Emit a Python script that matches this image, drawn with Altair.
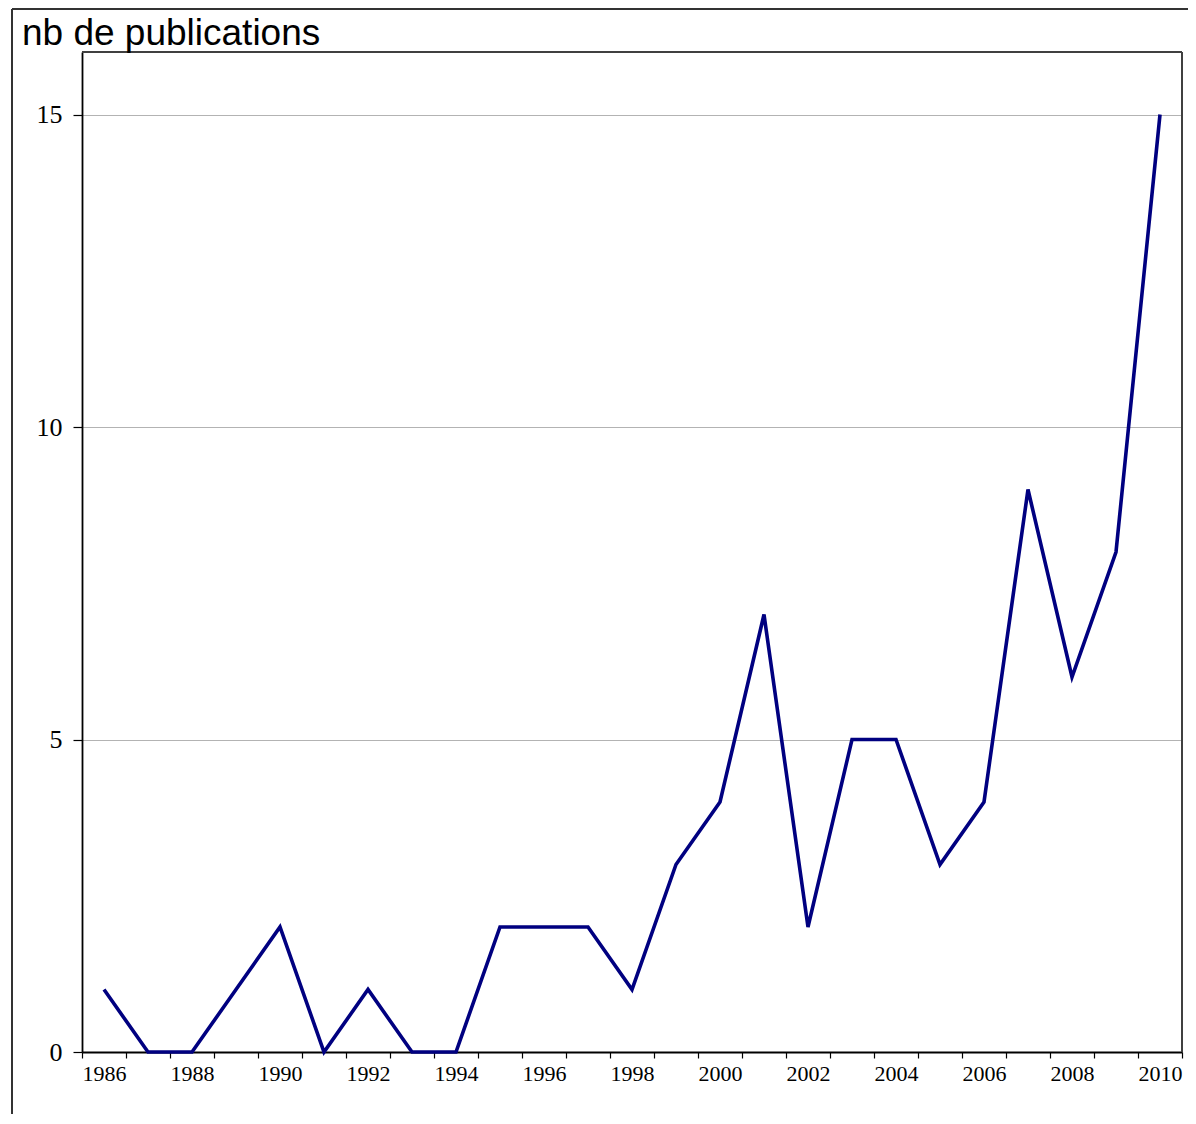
import altair as alt
import pandas as pd

years = list(range(1986, 2011))
counts = [1, 0, 0, 1, 2, 0, 1, 0, 0, 2, 2, 2, 1, 3, 4, 7, 2, 5, 5, 3, 4, 9, 6, 8, 15]
title_text = ["nb de publications"]
y_ticks = [0, 5, 10, 15]

df = pd.DataFrame({"year": years, "count": counts})
tick_vals = [y - 0.5 for y in years] + [years[-1] + 0.5]

W, H = 1100, 1000

x_scale = alt.Scale(domain=[years[0] - 0.5, years[-1] + 0.5], nice=False, zero=False)
y_scale = alt.Scale(domain=[0, 16], nice=False)

line = alt.Chart(df).mark_line(color="#000080", strokeWidth=3.6, clip=False).encode(
    x=alt.X("year:Q", scale=x_scale,
            axis=alt.Axis(values=tick_vals, title=None, grid=False,
                          labelExpr="(datum.value + 0.5) % 2 == 0 && datum.value < 2010 ? '' + (datum.value + 0.5) : ''",
                          labelOffset=22, labelOverlap=False, labelBound=False, labelFlush=False,
                          tickSize=6, tickColor="#000000", tickWidth=1.2,
                          domainColor="#000000", domainWidth=1.8,
                          labelFont="Liberation Serif", labelFontSize=22, labelColor="#000000",
                          labelPadding=5)),
    y=alt.Y("count:Q", scale=y_scale,
            axis=alt.Axis(values=y_ticks, title=None, grid=True, gridColor="#b3b3b3", gridWidth=1,
                          tickSize=9, tickColor="#000000", tickWidth=1.2,
                          domainColor="#000000", domainWidth=1.8,
                          labelFont="Liberation Serif", labelFontSize=26, labelColor="#000000",
                          labelPadding=11)),
)

title = alt.Chart(pd.DataFrame({"t": title_text})).mark_text(
    font="Liberation Sans", fontSize=37, align="left", baseline="alphabetic", color="#000000"
).encode(text="t:N", x=alt.value(-60), y=alt.value(-7))

one = pd.DataFrame({"a": [0]})
frame_top = alt.Chart(one).mark_rule(color="#333333", strokeWidth=2).encode(
    x=alt.value(-70), x2=alt.value(W + 40), y=alt.value(-43), y2=alt.value(-43))
frame_left = alt.Chart(one).mark_rule(color="#333333", strokeWidth=2).encode(
    x=alt.value(-70), x2=alt.value(-70), y=alt.value(-43), y2=alt.value(H + 100))
plot_top = alt.Chart(one).mark_rule(color="#404040", strokeWidth=2).encode(
    x=alt.value(0), x2=alt.value(W), y=alt.value(0), y2=alt.value(0))
plot_right = alt.Chart(one).mark_rule(color="#404040", strokeWidth=2).encode(
    x=alt.value(W), x2=alt.value(W), y=alt.value(0), y2=alt.value(H))

chart = alt.layer(frame_top, frame_left, plot_top, plot_right, line, title).properties(
    width=W, height=H,
    autosize=alt.AutoSizeParams(type="none"),
    padding={"left": 74, "top": 44, "right": 6, "bottom": 62},
).configure_view(stroke=None).configure(background="#ffffff")

chart.save("out.html", embed_options={"renderer": "svg", "actions": False})
